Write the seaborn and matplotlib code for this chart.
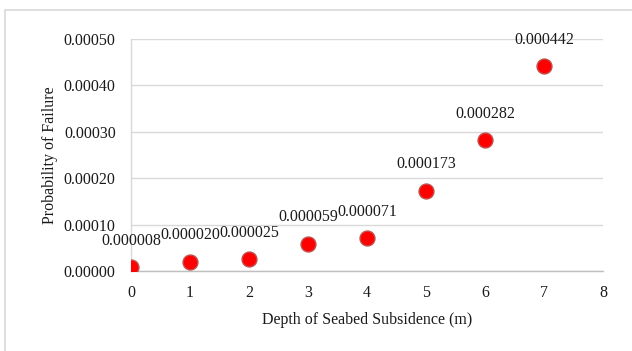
import matplotlib
matplotlib.use("Agg")
import matplotlib.pyplot as plt
from matplotlib.patches import Rectangle
import seaborn as sns
import pandas as pd

depth = [0, 1, 2, 3, 4, 5, 6, 7]
prob_failure = [0.000008, 0.000020, 0.000025, 0.000059, 0.000071, 0.000173, 0.000282, 0.000442]
value_labels = ["0.000008", "0.000020", "0.000025", "0.000059", "0.000071",
                "0.000173", "0.000282", "0.000442"]
y_ticks = [0.0, 0.0001, 0.0002, 0.0003, 0.0004, 0.0005]
x_ticks = [0, 1, 2, 3, 4, 5, 6, 7, 8]

sns.set_style("white")
plt.rcParams["font.family"] = ["Liberation Serif", "DejaVu Serif"]

text_color = "#1a1a1a"
grid_color = "#d9d9d9"
fs = 11.5

df = pd.DataFrame({"depth": depth, "prob": prob_failure})

fig = plt.figure(figsize=(6.32, 3.51), dpi=100)
fig.patch.set_facecolor("white")

# chart frame
fig.patches.append(Rectangle((5 / 632, -0.1), 1.1, 1 - 10 / 351 + 0.1,
                             transform=fig.transFigure, fill=False,
                             edgecolor=grid_color, linewidth=1.2))

ax = fig.add_axes([131 / 632, 1 - 271 / 351, (603 - 131) / 632, (271 - 39) / 351])

sns.scatterplot(data=df, x="depth", y="prob", ax=ax, s=115,
                color="#ff0000", edgecolor="#c0504d", linewidth=1.0, zorder=3)

for x, y, lab in zip(depth, prob_failure, value_labels):
    ax.annotate(lab, (x, y), xytext=(0, 19), textcoords="offset points",
                ha="center", va="center", fontsize=fs, color=text_color)

ax.set_xlim(0, 8)
ax.set_ylim(0, 0.0005)
ax.set_xticks(x_ticks)
ax.set_yticks(y_ticks)
ax.set_yticklabels([f"{v:.5f}" for v in y_ticks])
ax.tick_params(axis="both", length=0, labelsize=fs, colors=text_color)
ax.tick_params(axis="x", pad=10)
ax.tick_params(axis="y", pad=11)

ax.grid(axis="y", color=grid_color, linewidth=1.0)
ax.grid(axis="x", visible=False)
ax.set_axisbelow(True)
for side in ["top", "right"]:
    ax.spines[side].set_visible(False)
ax.spines["left"].set_color(grid_color)
ax.spines["bottom"].set_color("#bfbfbf")
ax.spines["left"].set_linewidth(1.0)
ax.spines["bottom"].set_linewidth(1.0)

ax.set_xlabel("Depth of Seabed Subsidence (m)", fontsize=fs, color=text_color, labelpad=8)
ax.set_ylabel("Probability of Failure", fontsize=fs, color=text_color, labelpad=4)

fig.savefig("out.png", dpi=100, facecolor="white")
